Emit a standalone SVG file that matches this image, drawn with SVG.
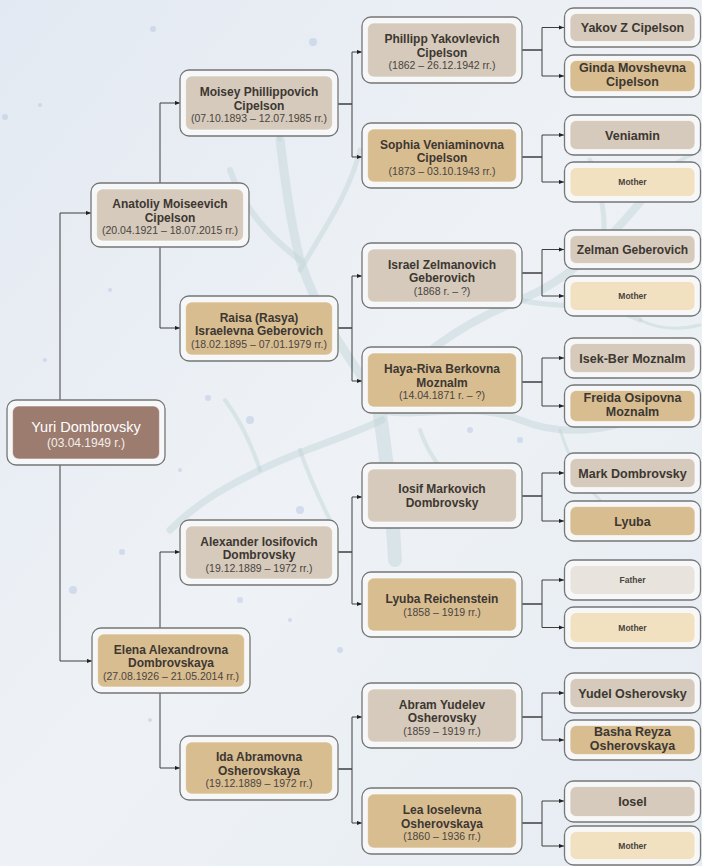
<svg xmlns="http://www.w3.org/2000/svg" width="702" height="866" viewBox="0 0 702 866">
<defs>
  <linearGradient id="bg" x1="0" y1="0" x2="1" y2="1">
    <stop offset="0" stop-color="#e3e9f2"/>
    <stop offset="0.5" stop-color="#eef2f6"/>
    <stop offset="1" stop-color="#e6ecf3"/>
  </linearGradient>
  <marker id="arr" viewBox="0 0 5 5" refX="5" refY="2.5" markerWidth="5" markerHeight="5" markerUnits="userSpaceOnUse" orient="auto">
    <path d="M0,0.4 L5,2.5 L0,4.6 Z" fill="#222"/>
  </marker>
  <style>
    .frame{fill:#f6f7f9;stroke:#767676;stroke-width:1.3}
    .in{stroke:#ffffff;stroke-opacity:0.55;stroke-width:1.2}
    .m .in{fill:#d5cabb}
    .f .in{fill:#d8bd91}
    .pm .in{fill:#f2e1c0}
    .pf .in{fill:#e8e4dd}
    .me .in{fill:#9b7c6f}
    text{font-family:"Liberation Sans","Noto Sans",sans-serif;text-anchor:middle;fill:#3d3732}
    .nm{font-size:12px;font-weight:700}
    .dt{font-size:10.5px;font-weight:400;fill:#4a4440}
    .nm4{font-size:12.5px;font-weight:700}
    .nm4.w{font-size:12px}
    .sm{font-size:8.5px;font-weight:700;fill:#4a4440}
    .me text{fill:#ffffff}
    .me .nm{font-size:14.5px;font-weight:400}
    .me .dt{font-size:12px;fill:#f4eeea}
    .tree{fill:none;stroke:#bcd2d5;stroke-linecap:round;stroke-opacity:0.42}
    .dot{fill:#b6c6e2;fill-opacity:0.5}
    #connectors path{fill:none;stroke:#3e3e3e;stroke-width:1;marker-end:url(#arr)}
  </style>
</defs>
<rect x="0" y="0" width="702" height="866" fill="url(#bg)"/>
<g id="background-tree">
  <path class="tree" stroke-width="14" d="M395,560 C392,500 385,450 378,400"/>
  <path class="tree" stroke-width="9" d="M378,400 C350,360 320,320 300,260 C290,220 285,180 280,140"/>
  <path class="tree" stroke-width="8" d="M380,400 C420,350 470,320 520,300 C570,280 610,240 650,190"/>
  <path class="tree" stroke-width="7" d="M380,410 C420,420 470,400 520,420 C570,440 620,430 680,400"/>
  <path class="tree" stroke-width="7" d="M382,420 C340,440 300,450 260,470 C230,485 200,500 170,530"/>
  <path class="tree" stroke-width="6" d="M300,260 C260,230 240,200 230,170"/>
  <path class="tree" stroke-width="5" d="M300,270 C330,220 350,190 360,150"/>
  <path class="tree" stroke-width="5" d="M520,300 C560,310 600,300 640,320"/>
  <path class="tree" stroke-width="5" d="M600,260 C610,220 600,190 590,160"/>
  <path class="tree" stroke-width="4" d="M650,190 C660,170 680,160 700,150"/>
  <path class="tree" stroke-width="4" d="M260,470 C250,440 240,420 225,400"/>
  <path class="tree" stroke-width="4" d="M300,450 C310,480 320,500 330,520"/>
  <path class="tree" stroke-width="4" d="M470,410 C480,380 500,360 520,350"/>
  <path class="tree" stroke-width="4" d="M420,430 C430,460 450,480 470,500"/>
  <path class="tree" stroke-width="4" d="M330,330 C300,330 270,320 250,300"/>
  <path class="tree" stroke-width="3" d="M280,140 C270,120 265,105 262,90"/>
  <path class="tree" stroke-width="3" d="M640,320 C660,330 680,330 700,325"/>
  <path class="tree" stroke-width="3" d="M560,430 C570,460 580,480 600,500"/>
</g>
<g id="speckles">
  <circle class="dot" cx="153" cy="29" r="3"/><circle class="dot" cx="313" cy="42" r="4"/>
  <circle class="dot" cx="5" cy="117" r="3"/><circle class="dot" cx="40" cy="105" r="2"/>
  <circle class="dot" cx="216" cy="300" r="3"/><circle class="dot" cx="110" cy="290" r="2"/>
  <circle class="dot" cx="250" cy="420" r="4"/><circle class="dot" cx="208" cy="398" r="3"/>
  <circle class="dot" cx="180" cy="470" r="2"/><circle class="dot" cx="73" cy="590" r="4"/>
  <circle class="dot" cx="122" cy="552" r="3"/><circle class="dot" cx="240" cy="600" r="3"/>
  <circle class="dot" cx="300" cy="510" r="4"/><circle class="dot" cx="340" cy="650" r="3"/>
  <circle class="dot" cx="290" cy="620" r="2"/><circle class="dot" cx="470" cy="430" r="3"/>
  <circle class="dot" cx="520" cy="440" r="3"/><circle class="dot" cx="45" cy="360" r="2"/>
  <circle class="dot" cx="150" cy="720" r="2"/><circle class="dot" cx="330" cy="580" r="3"/>
</g>
<g id="connectors">
  <path d="M60,433 V213 H91"/>
  <path d="M60,433 V661 H92"/>
  <path d="M160,215 V103 H180"/>
  <path d="M160,215 V328 H180"/>
  <path d="M160,661 V552 H180"/>
  <path d="M160,661 V768 H180"/>
  <path d="M338,104 H352 V52 H362"/>
  <path d="M338,104 H352 V157 H362"/>
  <path d="M338,328 H352 V276 H362"/>
  <path d="M338,328 H352 V381 H362"/>
  <path d="M338,552 H352 V497 H362"/>
  <path d="M338,552 H352 V604 H362"/>
  <path d="M338,769 H352 V717 H362"/>
  <path d="M338,769 H352 V823 H362"/>
  <path d="M522,50 H542 V27.5 H564"/>
  <path d="M522,50 H542 V76 H564"/>
  <path d="M522,157 H542 V135 H564"/>
  <path d="M522,157 H542 V182 H564"/>
  <path d="M522,273 H542 V249.5 H564"/>
  <path d="M522,273 H542 V296 H564"/>
  <path d="M522,382 H542 V358 H564"/>
  <path d="M522,382 H542 V406 H564"/>
  <path d="M522,496 H542 V473 H564"/>
  <path d="M522,496 H542 V521 H564"/>
  <path d="M522,604 H542 V580 H564"/>
  <path d="M522,604 H542 V627.5 H564"/>
  <path d="M522,717 H542 V693 H564"/>
  <path d="M522,717 H542 V740 H564"/>
  <path d="M522,823 H542 V801 H564"/>
  <path d="M522,823 H542 V846 H564"/>
</g>

<g id="n-yuri" class="me">
  <rect class="frame" x="7" y="400" width="158" height="65" rx="9"/>
  <rect class="in" x="12.5" y="406" width="147" height="53" rx="6"/>
  <text class="nm" x="86" y="432">Yuri Dombrovsky</text>
  <text class="dt" x="86" y="447">(03.04.1949 r.)</text>
</g>

<g id="n-anatoliy" class="m">
  <rect class="frame" x="91" y="183" width="158" height="64" rx="9"/>
  <rect class="in" x="96.5" y="189" width="147" height="52" rx="6"/>
  <text class="nm" x="170" y="208">Anatoliy Moiseevich</text>
  <text class="nm" x="170" y="221.5">Cipelson</text>
  <text class="dt" x="170" y="234">(20.04.1921 – 18.07.2015 rr.)</text>
</g>
<g id="n-elena" class="f">
  <rect class="frame" x="92" y="628" width="158" height="65" rx="9"/>
  <rect class="in" x="97.5" y="634" width="147" height="53" rx="6"/>
  <text class="nm" x="171" y="653.5">Elena Alexandrovna</text>
  <text class="nm" x="171" y="667">Dombrovskaya</text>
  <text class="dt" x="171" y="679.5">(27.08.1926 – 21.05.2014 rr.)</text>
</g>

<g id="n-moisey" class="m">
  <rect class="frame" x="180" y="70" width="158" height="66" rx="9"/>
  <rect class="in" x="185.5" y="76" width="147" height="54" rx="6"/>
  <text class="nm" x="259" y="96">Moisey Phillippovich</text>
  <text class="nm" x="259" y="109.5">Cipelson</text>
  <text class="dt" x="259" y="122">(07.10.1893 – 12.07.1985 rr.)</text>
</g>
<g id="n-raisa" class="f">
  <rect class="frame" x="180" y="296" width="158" height="65" rx="9"/>
  <rect class="in" x="185.5" y="302" width="147" height="53" rx="6"/>
  <text class="nm" x="259" y="321.5">Raisa (Rasya)</text>
  <text class="nm" x="259" y="335">Israelevna Geberovich</text>
  <text class="dt" x="259" y="347.5">(18.02.1895 – 07.01.1979 rr.)</text>
</g>
<g id="n-alexander" class="m">
  <rect class="frame" x="180" y="520" width="158" height="65" rx="9"/>
  <rect class="in" x="185.5" y="526" width="147" height="53" rx="6"/>
  <text class="nm" x="259" y="545.5">Alexander Iosifovich</text>
  <text class="nm" x="259" y="559">Dombrovsky</text>
  <text class="dt" x="259" y="571.5">(19.12.1889 – 1972 rr.)</text>
</g>
<g id="n-ida" class="f">
  <rect class="frame" x="180" y="736" width="158" height="64" rx="9"/>
  <rect class="in" x="185.5" y="742" width="147" height="52" rx="6"/>
  <text class="nm" x="259" y="761">Ida Abramovna</text>
  <text class="nm" x="259" y="774.5">Osherovskaya</text>
  <text class="dt" x="259" y="787">(19.12.1889 – 1972 rr.)</text>
</g>

<g id="n-phillipp" class="m">
  <rect class="frame" x="362" y="17" width="160" height="66" rx="9"/>
  <rect class="in" x="367.5" y="23" width="149" height="54" rx="6"/>
  <text class="nm" x="442" y="43">Phillipp Yakovlevich</text>
  <text class="nm" x="442" y="56.5">Cipelson</text>
  <text class="dt" x="442" y="69">(1862 – 26.12.1942 rr.)</text>
</g>
<g id="n-sophia" class="f">
  <rect class="frame" x="362" y="123" width="160" height="65" rx="9"/>
  <rect class="in" x="367.5" y="129" width="149" height="53" rx="6"/>
  <text class="nm" x="442" y="148.5">Sophia Veniaminovna</text>
  <text class="nm" x="442" y="162">Cipelson</text>
  <text class="dt" x="442" y="174.5">(1873 – 03.10.1943 rr.)</text>
</g>
<g id="n-israel" class="m">
  <rect class="frame" x="362" y="243" width="160" height="65" rx="9"/>
  <rect class="in" x="367.5" y="249" width="149" height="53" rx="6"/>
  <text class="nm" x="442" y="268.5">Israel Zelmanovich</text>
  <text class="nm" x="442" y="282">Geberovich</text>
  <text class="dt" x="442" y="294.5">(1868 r. – ?)</text>
</g>
<g id="n-haya" class="f">
  <rect class="frame" x="362" y="347" width="160" height="66" rx="9"/>
  <rect class="in" x="367.5" y="353" width="149" height="54" rx="6"/>
  <text class="nm" x="442" y="373">Haya-Riva Berkovna</text>
  <text class="nm" x="442" y="386.5">Moznalm</text>
  <text class="dt" x="442" y="399">(14.04.1871 r. – ?)</text>
</g>
<g id="n-iosif" class="m">
  <rect class="frame" x="362" y="463" width="160" height="65" rx="9"/>
  <rect class="in" x="367.5" y="469" width="149" height="53" rx="6"/>
  <text class="nm" x="442" y="493">Iosif Markovich</text>
  <text class="nm" x="442" y="506.5">Dombrovsky</text>
</g>
<g id="n-lyuba-r" class="f">
  <rect class="frame" x="362" y="572" width="160" height="65" rx="9"/>
  <rect class="in" x="367.5" y="578" width="149" height="53" rx="6"/>
  <text class="nm" x="442" y="602.5">Lyuba Reichenstein</text>
  <text class="dt" x="442" y="616">(1858 – 1919 rr.)</text>
</g>
<g id="n-abram" class="m">
  <rect class="frame" x="362" y="683" width="160" height="65" rx="9"/>
  <rect class="in" x="367.5" y="689" width="149" height="53" rx="6"/>
  <text class="nm" x="442" y="708.5">Abram Yudelev</text>
  <text class="nm" x="442" y="722">Osherovsky</text>
  <text class="dt" x="442" y="734.5">(1859 – 1919 rr.)</text>
</g>
<g id="n-lea" class="f">
  <rect class="frame" x="362" y="788" width="160" height="66" rx="9"/>
  <rect class="in" x="367.5" y="794" width="149" height="54" rx="6"/>
  <text class="nm" x="442" y="814">Lea Ioselevna</text>
  <text class="nm" x="442" y="827.5">Osherovskaya</text>
  <text class="dt" x="442" y="840">(1860 – 1936 rr.)</text>
</g>

<g id="n-yakov" class="m">
  <rect class="frame" x="564.5" y="8" width="136" height="39" rx="9"/>
  <rect class="in" x="570" y="13.5" width="125" height="28" rx="6"/>
  <text class="nm4" x="632.5" y="32">Yakov Z Cipelson</text>
</g>
<g id="n-ginda" class="f">
  <rect class="frame" x="564.5" y="55" width="136" height="42" rx="9"/>
  <rect class="in" x="570" y="60.5" width="125" height="31" rx="6"/>
  <text class="nm4" x="632.5" y="72">Ginda Movshevna</text>
  <text class="nm4" x="632.5" y="86">Cipelson</text>
</g>
<g id="n-veniamin" class="m">
  <rect class="frame" x="564.5" y="115" width="136" height="40" rx="9"/>
  <rect class="in" x="570" y="120.5" width="125" height="29" rx="6"/>
  <text class="nm4" x="632.5" y="139.5">Veniamin</text>
</g>
<g id="n-mother-1" class="pm">
  <rect class="frame" x="564.5" y="162" width="136" height="40" rx="9"/>
  <rect class="in" x="570" y="167.5" width="125" height="29" rx="6"/>
  <text class="sm" x="632.5" y="185">Mother</text>
</g>
<g id="n-zelman" class="m">
  <rect class="frame" x="564.5" y="230" width="136" height="39" rx="9"/>
  <rect class="in" x="570" y="235.5" width="125" height="28" rx="6"/>
  <text class="nm4 w" x="632.5" y="254">Zelman Geberovich</text>
</g>
<g id="n-mother-2" class="pm">
  <rect class="frame" x="564.5" y="276" width="136" height="40" rx="9"/>
  <rect class="in" x="570" y="281.5" width="125" height="29" rx="6"/>
  <text class="sm" x="632.5" y="299">Mother</text>
</g>
<g id="n-isek-ber" class="m">
  <rect class="frame" x="564.5" y="338" width="136" height="40" rx="9"/>
  <rect class="in" x="570" y="343.5" width="125" height="29" rx="6"/>
  <text class="nm4" x="632.5" y="362.5">Isek-Ber Moznalm</text>
</g>
<g id="n-freida" class="f">
  <rect class="frame" x="564.5" y="385" width="136" height="42" rx="9"/>
  <rect class="in" x="570" y="390.5" width="125" height="31" rx="6"/>
  <text class="nm4" x="632.5" y="402">Freida Osipovna</text>
  <text class="nm4" x="632.5" y="416">Moznalm</text>
</g>
<g id="n-mark" class="m">
  <rect class="frame" x="564.5" y="453" width="136" height="40" rx="9"/>
  <rect class="in" x="570" y="458.5" width="125" height="29" rx="6"/>
  <text class="nm4" x="632.5" y="477.5">Mark Dombrovsky</text>
</g>
<g id="n-lyuba" class="f">
  <rect class="frame" x="564.5" y="501" width="136" height="40" rx="9"/>
  <rect class="in" x="570" y="506.5" width="125" height="29" rx="6"/>
  <text class="nm4" x="632.5" y="525.5">Lyuba</text>
</g>
<g id="n-father" class="pf">
  <rect class="frame" x="564.5" y="560" width="136" height="40" rx="9"/>
  <rect class="in" x="570" y="565.5" width="125" height="29" rx="6"/>
  <text class="sm" x="632.5" y="583">Father</text>
</g>
<g id="n-mother-3" class="pm">
  <rect class="frame" x="564.5" y="607" width="136" height="41" rx="9"/>
  <rect class="in" x="570" y="612.5" width="125" height="30" rx="6"/>
  <text class="sm" x="632.5" y="630.5">Mother</text>
</g>
<g id="n-yudel" class="m">
  <rect class="frame" x="564.5" y="673" width="136" height="40" rx="9"/>
  <rect class="in" x="570" y="678.5" width="125" height="29" rx="6"/>
  <text class="nm4" x="632.5" y="697.5">Yudel Osherovsky</text>
</g>
<g id="n-basha" class="f">
  <rect class="frame" x="564.5" y="720" width="136" height="40" rx="9"/>
  <rect class="in" x="570" y="725.5" width="125" height="29" rx="6"/>
  <text class="nm4" x="632.5" y="736">Basha Reyza</text>
  <text class="nm4" x="632.5" y="750">Osherovskaya</text>
</g>
<g id="n-iosel" class="m">
  <rect class="frame" x="564.5" y="781" width="136" height="41" rx="9"/>
  <rect class="in" x="570" y="786.5" width="125" height="30" rx="6"/>
  <text class="nm4" x="632.5" y="806">Iosel</text>
</g>
<g id="n-mother-4" class="pm">
  <rect class="frame" x="564.5" y="826" width="136" height="39" rx="9"/>
  <rect class="in" x="570" y="831.5" width="125" height="28" rx="6"/>
  <text class="sm" x="632.5" y="848.5">Mother</text>
</g>
</svg>
